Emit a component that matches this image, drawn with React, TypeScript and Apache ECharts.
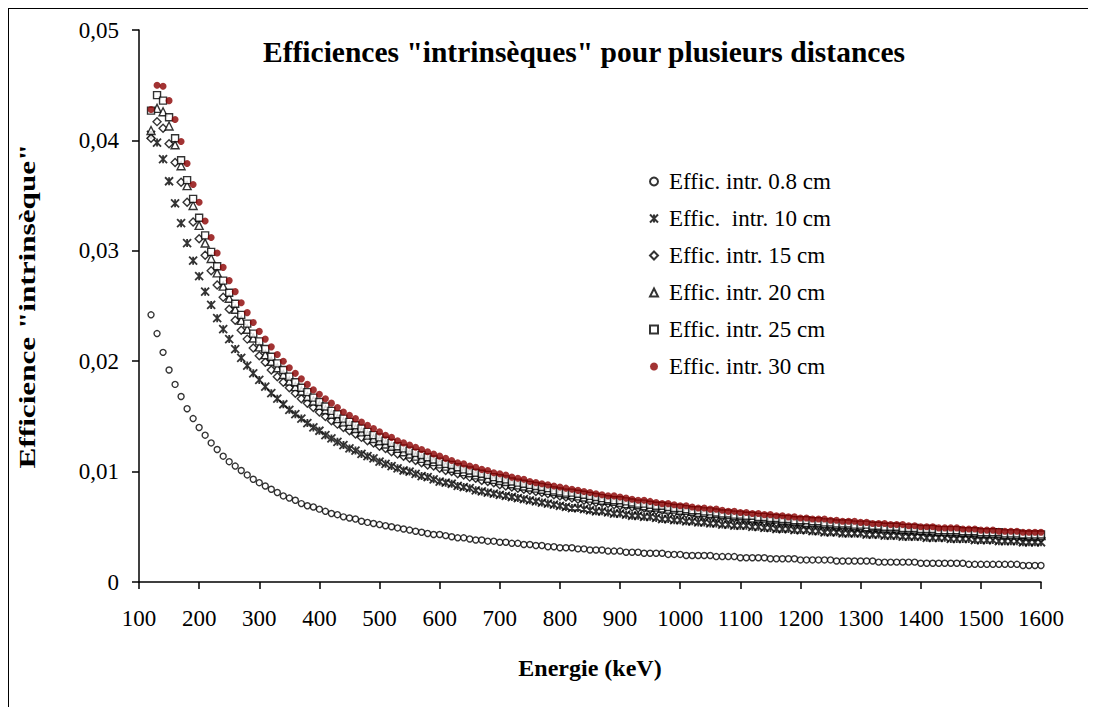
import { useEffect, useRef } from "react";
import * as echarts from "echarts";

const ENERGY = [
  120, 130, 140, 150, 160, 170, 180, 190,
  200, 210, 220, 230, 240, 250, 260, 270, 280, 290,
  300, 310, 320, 330, 340, 350, 360, 370, 380, 390,
  400, 410, 420, 430, 440, 450, 460, 470, 480, 490,
  500, 510, 520, 530, 540, 550, 560, 570, 580, 590,
  600, 610, 620, 630, 640, 650, 660, 670, 680, 690,
  700, 710, 720, 730, 740, 750, 760, 770, 780, 790,
  800, 810, 820, 830, 840, 850, 860, 870, 880, 890,
  900, 910, 920, 930, 940, 950, 960, 970, 980, 990,
  1000, 1010, 1020, 1030, 1040, 1050, 1060, 1070, 1080, 1090,
  1100, 1110, 1120, 1130, 1140, 1150, 1160, 1170, 1180, 1190,
  1200, 1210, 1220, 1230, 1240, 1250, 1260, 1270, 1280, 1290,
  1300, 1310, 1320, 1330, 1340, 1350, 1360, 1370, 1380, 1390,
  1400, 1410, 1420, 1430, 1440, 1450, 1460, 1470, 1480, 1490,
  1500, 1510, 1520, 1530, 1540, 1550, 1560, 1570, 1580, 1590,
  1600,
];

const EFF_08 = [
  0.0242, 0.0225, 0.0208, 0.0192, 0.0179, 0.0168, 0.0157, 0.0148,
  0.0140, 0.0133, 0.0126, 0.0120, 0.0114, 0.0109, 0.0105, 0.0101, 0.0097, 0.0093,
  0.0090, 0.0087, 0.0084, 0.0081, 0.0078, 0.0076, 0.0074, 0.0071, 0.0069, 0.0068,
  0.0066, 0.0064, 0.0062, 0.0061, 0.0059, 0.0058, 0.0057, 0.0055, 0.0054, 0.0053,
  0.0052, 0.0051, 0.0050, 0.0049, 0.0048, 0.0047, 0.0046, 0.0045, 0.0044, 0.0043,
  0.0043, 0.0042, 0.0041, 0.0040, 0.0040, 0.0039, 0.0038, 0.0038, 0.0037, 0.0037,
  0.0036, 0.0036, 0.0035, 0.0035, 0.0034, 0.0034, 0.0033, 0.0033, 0.0032, 0.0032,
  0.0031, 0.0031, 0.0031, 0.0030, 0.0030, 0.0029, 0.0029, 0.0029, 0.0028, 0.0028,
  0.0028, 0.0027, 0.0027, 0.0027, 0.0026, 0.0026, 0.0026, 0.0026, 0.0025, 0.0025,
  0.0025, 0.0024, 0.0024, 0.0024, 0.0024, 0.0024, 0.0023, 0.0023, 0.0023, 0.0023,
  0.0022, 0.0022, 0.0022, 0.0022, 0.0022, 0.0021, 0.0021, 0.0021, 0.0021, 0.0021,
  0.0020, 0.0020, 0.0020, 0.0020, 0.0020, 0.0020, 0.0019, 0.0019, 0.0019, 0.0019,
  0.0019, 0.0019, 0.0019, 0.0018, 0.0018, 0.0018, 0.0018, 0.0018, 0.0018, 0.0018,
  0.0017, 0.0017, 0.0017, 0.0017, 0.0017, 0.0017, 0.0017, 0.0017, 0.0016, 0.0016,
  0.0016, 0.0016, 0.0016, 0.0016, 0.0016, 0.0016, 0.0016, 0.0015, 0.0015, 0.0015,
  0.0015,
];

const EFF_10 = [
  0.0405, 0.0398, 0.0383, 0.0363, 0.0343, 0.0325, 0.0307, 0.0291,
  0.0277, 0.0263, 0.0251, 0.0239, 0.0229, 0.0220, 0.0211, 0.0203, 0.0196, 0.0189,
  0.0183, 0.0177, 0.0171, 0.0166, 0.0161, 0.0156, 0.0152, 0.0148, 0.0144, 0.0140,
  0.0137, 0.0133, 0.0130, 0.0127, 0.0124, 0.0121, 0.0119, 0.0116, 0.0114, 0.0112,
  0.0109, 0.0107, 0.0105, 0.0103, 0.0101, 0.0100, 0.0098, 0.0096, 0.0095, 0.0093,
  0.0091, 0.0090, 0.0089, 0.0087, 0.0086, 0.0085, 0.0083, 0.0082, 0.0081, 0.0080,
  0.0079, 0.0078, 0.0077, 0.0076, 0.0075, 0.0074, 0.0073, 0.0072, 0.0071, 0.0070,
  0.0069, 0.0068, 0.0067, 0.0067, 0.0066, 0.0065, 0.0064, 0.0064, 0.0063, 0.0062,
  0.0062, 0.0061, 0.0060, 0.0060, 0.0059, 0.0059, 0.0058, 0.0057, 0.0057, 0.0056,
  0.0056, 0.0055, 0.0055, 0.0054, 0.0054, 0.0053, 0.0053, 0.0052, 0.0052, 0.0051,
  0.0051, 0.0051, 0.0050, 0.0050, 0.0049, 0.0049, 0.0048, 0.0048, 0.0048, 0.0047,
  0.0047, 0.0047, 0.0046, 0.0046, 0.0045, 0.0045, 0.0045, 0.0044, 0.0044, 0.0044,
  0.0044, 0.0043, 0.0043, 0.0043, 0.0042, 0.0042, 0.0042, 0.0041, 0.0041, 0.0041,
  0.0041, 0.0040, 0.0040, 0.0040, 0.0040, 0.0039, 0.0039, 0.0039, 0.0039, 0.0038,
  0.0038, 0.0038, 0.0038, 0.0037, 0.0037, 0.0037, 0.0037, 0.0036, 0.0036, 0.0036,
  0.0036,
];

const EFF_15 = [
  0.0402, 0.0417, 0.0411, 0.0397, 0.0380, 0.0362, 0.0344, 0.0326,
  0.0311, 0.0296, 0.0282, 0.0269, 0.0258, 0.0247, 0.0237, 0.0228, 0.0220, 0.0212,
  0.0205, 0.0199, 0.0192, 0.0186, 0.0181, 0.0176, 0.0171, 0.0166, 0.0162, 0.0158,
  0.0154, 0.0150, 0.0146, 0.0143, 0.0140, 0.0137, 0.0134, 0.0131, 0.0128, 0.0126,
  0.0123, 0.0121, 0.0118, 0.0116, 0.0114, 0.0112, 0.0110, 0.0108, 0.0106, 0.0105,
  0.0103, 0.0101, 0.0100, 0.0098, 0.0097, 0.0095, 0.0094, 0.0092, 0.0091, 0.0090,
  0.0088, 0.0087, 0.0086, 0.0085, 0.0084, 0.0083, 0.0082, 0.0081, 0.0080, 0.0079,
  0.0078, 0.0077, 0.0076, 0.0075, 0.0074, 0.0073, 0.0072, 0.0072, 0.0071, 0.0070,
  0.0069, 0.0069, 0.0068, 0.0067, 0.0067, 0.0066, 0.0065, 0.0065, 0.0064, 0.0063,
  0.0063, 0.0062, 0.0062, 0.0061, 0.0060, 0.0060, 0.0059, 0.0059, 0.0058, 0.0058,
  0.0057, 0.0057, 0.0056, 0.0056, 0.0055, 0.0055, 0.0054, 0.0054, 0.0054, 0.0053,
  0.0053, 0.0052, 0.0052, 0.0052, 0.0051, 0.0051, 0.0050, 0.0050, 0.0050, 0.0049,
  0.0049, 0.0049, 0.0048, 0.0048, 0.0048, 0.0047, 0.0047, 0.0047, 0.0046, 0.0046,
  0.0046, 0.0045, 0.0045, 0.0045, 0.0044, 0.0044, 0.0044, 0.0044, 0.0043, 0.0043,
  0.0043, 0.0043, 0.0042, 0.0042, 0.0042, 0.0041, 0.0041, 0.0041, 0.0041, 0.0041,
  0.0040,
];

const EFF_20 = [
  0.0409, 0.0429, 0.0426, 0.0413, 0.0396, 0.0377, 0.0359, 0.0341,
  0.0323, 0.0307, 0.0293, 0.0280, 0.0268, 0.0257, 0.0247, 0.0237, 0.0229, 0.0221,
  0.0213, 0.0206, 0.0200, 0.0194, 0.0188, 0.0182, 0.0177, 0.0173, 0.0168, 0.0164,
  0.0160, 0.0156, 0.0152, 0.0148, 0.0145, 0.0142, 0.0139, 0.0136, 0.0133, 0.0130,
  0.0128, 0.0125, 0.0123, 0.0121, 0.0118, 0.0116, 0.0114, 0.0112, 0.0110, 0.0109,
  0.0107, 0.0105, 0.0103, 0.0102, 0.0100, 0.0099, 0.0097, 0.0096, 0.0094, 0.0093,
  0.0092, 0.0091, 0.0089, 0.0088, 0.0087, 0.0086, 0.0085, 0.0084, 0.0083, 0.0082,
  0.0081, 0.0080, 0.0079, 0.0078, 0.0077, 0.0076, 0.0075, 0.0074, 0.0074, 0.0073,
  0.0072, 0.0071, 0.0071, 0.0070, 0.0069, 0.0068, 0.0068, 0.0067, 0.0066, 0.0066,
  0.0065, 0.0065, 0.0064, 0.0063, 0.0063, 0.0062, 0.0062, 0.0061, 0.0061, 0.0060,
  0.0060, 0.0059, 0.0058, 0.0058, 0.0058, 0.0057, 0.0057, 0.0056, 0.0056, 0.0055,
  0.0055, 0.0054, 0.0054, 0.0054, 0.0053, 0.0053, 0.0052, 0.0052, 0.0052, 0.0051,
  0.0051, 0.0050, 0.0050, 0.0050, 0.0049, 0.0049, 0.0049, 0.0048, 0.0048, 0.0048,
  0.0047, 0.0047, 0.0047, 0.0046, 0.0046, 0.0046, 0.0046, 0.0045, 0.0045, 0.0045,
  0.0044, 0.0044, 0.0044, 0.0044, 0.0043, 0.0043, 0.0043, 0.0043, 0.0042, 0.0042,
  0.0042,
];

const EFF_25 = [
  0.0427, 0.0441, 0.0436, 0.0421, 0.0402, 0.0382, 0.0364, 0.0347,
  0.0330, 0.0314, 0.0299, 0.0286, 0.0273, 0.0262, 0.0252, 0.0242, 0.0234, 0.0225,
  0.0218, 0.0211, 0.0204, 0.0198, 0.0192, 0.0186, 0.0181, 0.0176, 0.0172, 0.0167,
  0.0163, 0.0159, 0.0155, 0.0152, 0.0148, 0.0145, 0.0142, 0.0139, 0.0136, 0.0133,
  0.0131, 0.0128, 0.0126, 0.0123, 0.0121, 0.0119, 0.0117, 0.0115, 0.0113, 0.0111,
  0.0109, 0.0107, 0.0106, 0.0104, 0.0102, 0.0101, 0.0099, 0.0098, 0.0097, 0.0095,
  0.0094, 0.0093, 0.0091, 0.0090, 0.0089, 0.0088, 0.0087, 0.0086, 0.0085, 0.0083,
  0.0082, 0.0081, 0.0081, 0.0080, 0.0079, 0.0078, 0.0077, 0.0076, 0.0075, 0.0074,
  0.0074, 0.0073, 0.0072, 0.0071, 0.0071, 0.0070, 0.0069, 0.0069, 0.0068, 0.0067,
  0.0067, 0.0066, 0.0065, 0.0065, 0.0064, 0.0064, 0.0063, 0.0062, 0.0062, 0.0061,
  0.0061, 0.0060, 0.0060, 0.0059, 0.0059, 0.0058, 0.0058, 0.0057, 0.0057, 0.0056,
  0.0056, 0.0056, 0.0055, 0.0055, 0.0054, 0.0054, 0.0053, 0.0053, 0.0053, 0.0052,
  0.0052, 0.0052, 0.0051, 0.0051, 0.0050, 0.0050, 0.0050, 0.0049, 0.0049, 0.0049,
  0.0048, 0.0048, 0.0048, 0.0047, 0.0047, 0.0047, 0.0047, 0.0046, 0.0046, 0.0046,
  0.0045, 0.0045, 0.0045, 0.0045, 0.0044, 0.0044, 0.0044, 0.0043, 0.0043, 0.0043,
  0.0043,
];

const EFF_30 = [
  0.0428, 0.0450, 0.0449, 0.0436, 0.0419, 0.0399, 0.0379, 0.0360,
  0.0344, 0.0327, 0.0312, 0.0298, 0.0285, 0.0273, 0.0263, 0.0253, 0.0244, 0.0235,
  0.0227, 0.0220, 0.0213, 0.0206, 0.0200, 0.0194, 0.0189, 0.0184, 0.0179, 0.0174,
  0.0170, 0.0166, 0.0162, 0.0158, 0.0154, 0.0151, 0.0148, 0.0145, 0.0142, 0.0139,
  0.0136, 0.0133, 0.0131, 0.0128, 0.0126, 0.0124, 0.0122, 0.0120, 0.0118, 0.0116,
  0.0114, 0.0112, 0.0110, 0.0108, 0.0107, 0.0105, 0.0104, 0.0102, 0.0101, 0.0099,
  0.0098, 0.0097, 0.0095, 0.0094, 0.0093, 0.0091, 0.0090, 0.0089, 0.0088, 0.0087,
  0.0086, 0.0085, 0.0084, 0.0083, 0.0082, 0.0081, 0.0080, 0.0079, 0.0078, 0.0078,
  0.0077, 0.0076, 0.0075, 0.0074, 0.0074, 0.0073, 0.0072, 0.0071, 0.0071, 0.0070,
  0.0069, 0.0069, 0.0068, 0.0067, 0.0067, 0.0066, 0.0066, 0.0065, 0.0064, 0.0064,
  0.0063, 0.0063, 0.0062, 0.0062, 0.0061, 0.0061, 0.0060, 0.0060, 0.0059, 0.0059,
  0.0058, 0.0058, 0.0057, 0.0057, 0.0057, 0.0056, 0.0056, 0.0055, 0.0055, 0.0055,
  0.0054, 0.0054, 0.0053, 0.0053, 0.0053, 0.0052, 0.0052, 0.0052, 0.0051, 0.0051,
  0.0050, 0.0050, 0.0050, 0.0049, 0.0049, 0.0049, 0.0049, 0.0048, 0.0048, 0.0048,
  0.0047, 0.0047, 0.0047, 0.0046, 0.0046, 0.0046, 0.0046, 0.0045, 0.0045, 0.0045,
  0.0045,
];

const SERIES_NAMES = [
  "Effic. intr. 0.8 cm",
  "Effic.  intr. 10 cm",
  "Effic. intr. 15 cm",
  "Effic. intr. 20 cm",
  "Effic. intr. 25 cm",
  "Effic. intr. 30 cm",
];

const TITLE = 'Efficiences "intrinsèques" pour plusieurs distances';
const X_NAME = "Energie (keV)";
const Y_NAME = 'Efficience "intrinsèque"';

const FONT = "'Liberation Serif', 'Times New Roman', serif";
const STAR = "path://M0,0L10,10M10,0L0,10M5,0L5,10";

export default function App() {
  const ref = useRef<HTMLDivElement>(null);

  useEffect(() => {
    document.documentElement.style.overflow = "hidden";
    const chart = echarts.init(ref.current!, null, { renderer: "svg" });

    const hollow = { color: "#ffffff", borderColor: "#000000", borderWidth: 1.4 };
    const mk = (name: string, values: number[], symbol: string, size: number, itemStyle: any) => ({
      name,
      type: "scatter",
      data: ENERGY.map((e, i) => [e, values[i]]),
      symbol,
      symbolSize: size,
      itemStyle,
      emphasis: { disabled: true },
    });

    chart.setOption({
      animation: false,
      textStyle: { fontFamily: FONT, color: "#000" },
      grid: { left: 130, top: 21, width: 902, height: 552, containLabel: false },
      legend: {
        orient: "vertical",
        left: 635,
        top: 156,
        itemWidth: 8,
        itemHeight: 8,
        itemGap: 14,
        selectedMode: false,
        textStyle: { fontFamily: FONT, fontSize: 23, color: "#000", lineHeight: 23, padding: [0, 0, 0, 6] },
        data: SERIES_NAMES,
      },
      xAxis: {
        type: "value",
        min: 100,
        max: 1600,
        interval: 100,
        name: X_NAME,
        nameLocation: "middle",
        nameGap: 74,
        nameTextStyle: { fontFamily: FONT, fontSize: 24, fontWeight: "bold", color: "#000" },
        axisLine: { show: true, onZero: false, lineStyle: { color: "#000", width: 1.5 } },
        axisTick: { show: true, inside: false, length: 7, lineStyle: { color: "#000", width: 1.5 } },
        axisLabel: {
          fontFamily: FONT,
          fontSize: 23,
          color: "#000",
          margin: 25,
          formatter: (v: number) => String(Math.round(v)),
        },
        splitLine: { show: false },
      },
      yAxis: {
        type: "value",
        min: 0,
        max: 0.05,
        interval: 0.01,
        axisLine: { show: true, lineStyle: { color: "#000", width: 1.5 } },
        axisTick: { show: true, inside: false, length: 7, lineStyle: { color: "#000", width: 1.5 } },
        axisLabel: {
          fontFamily: FONT,
          fontSize: 23,
          color: "#000",
          margin: 20,
          formatter: (v: number) => (v === 0 ? "0" : v.toFixed(2).replace(".", ",")),
        },
        splitLine: { show: false },
      },
      graphic: [
        {
          type: "text",
          x: 575,
          y: 43,
          style: {
            text: TITLE,
            fontFamily: FONT,
            fontSize: 29.5,
            fontWeight: "bold",
            fill: "#000",
            textAlign: "center",
            textVerticalAlign: "middle",
          },
        },
        {
          type: "text",
          x: 18,
          y: 297,
          rotation: Math.PI / 2,
          scaleX: 1.3,
          style: {
            text: Y_NAME,
            fontFamily: FONT,
            fontSize: 24,
            fontWeight: "bold",
            fill: "#000",
            textAlign: "center",
            textVerticalAlign: "middle",
          },
        },
      ],
      series: [
        mk(SERIES_NAMES[0], EFF_08, "circle", 6, hollow),
        mk(SERIES_NAMES[1], EFF_10, STAR, 8, { color: "rgba(0,0,0,0)", borderColor: "#000", borderWidth: 1.8 }),
        mk(SERIES_NAMES[2], EFF_15, "diamond", 8, hollow),
        mk(SERIES_NAMES[3], EFF_20, "triangle", 8, hollow),
        mk(SERIES_NAMES[4], EFF_25, "rect", 7, hollow),
        mk(SERIES_NAMES[5], EFF_30, "circle", 7, { color: "#8b0000", borderWidth: 0 }),
      ],
    });

    return () => {
      chart.dispose();
    };
  }, []);

  return (
    <div style={{ width: 1081, height: 710, border: "1px solid #000", boxSizing: "border-box" }}>
      <div ref={ref} style={{ width: 1079, height: 708 }} />
    </div>
  );
}
